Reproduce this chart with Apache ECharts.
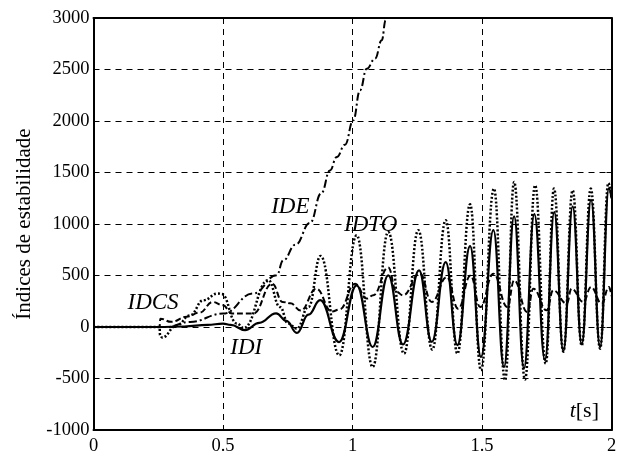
<!DOCTYPE html>
<html>
<head>
<meta charset="utf-8">
<script src="https://cdn.jsdelivr.net/npm/echarts@6/dist/echarts.min.js"></script>
<style>html,body{margin:0;padding:0;background:#fff}#c{width:619px;height:453px}</style>
</head>
<body>
<div id="c"></div>
<script>
// ---- data (t [s], value) ----
var xTicks = [0, 0.5, 1, 1.5, 2];
var yTicks = [-1000, -500, 0, 500, 1000, 1500, 2000, 2500, 3000];

var IDI = [[0,0],[0.25,0],[0.35,5],[0.44,20],[0.5,33],[0.53,20],[0.585,-30],[0.64,40],[0.705,133],[0.745,60],[0.785,-58],[0.83,120],[0.875,260],[0.948,-146],[1.016,405],[1.078,-194],[1.138,502],[1.195,-170],[1.257,550],[1.306,-145],[1.36,630],[1.405,-175],[1.454,785],[1.496,-290],[1.544,940],[1.585,-388],[1.624,1075],[1.662,-400],[1.702,1095],[1.743,-320],[1.779,1115],[1.814,-233],[1.85,1170],[1.885,-168],[1.921,1235],[1.956,-195],[1.99,1345],[2.0,1250]];

var IDTO = [[0,0],[0.255,0],[0.257,-80],[0.265,-103],[0.321,15],[0.373,113],[0.424,260],[0.48,325],[0.495,320],[0.553,35],[0.58,-10],[0.675,455],[0.72,194],[0.752,33],[0.785,-16],[0.83,194],[0.877,690],[0.949,-275],[1.016,890],[1.078,-388],[1.138,922],[1.199,-258],[1.254,940],[1.308,-220],[1.36,1036],[1.405,-258],[1.454,1191],[1.496,-420],[1.546,1344],[1.589,-517],[1.624,1408],[1.666,-510],[1.705,1376],[1.746,-356],[1.778,1344],[1.814,-240],[1.85,1327],[1.885,-180],[1.92,1344],[1.956,-210],[1.988,1398],[2.0,1250]];

var IDCS = [[0,0],[0.255,0],[0.258,80],[0.3,50],[0.36,100],[0.41,140],[0.46,243],[0.5,210],[0.534,130],[0.617,130],[0.69,420],[0.73,243],[0.76,230],[0.8,160],[0.86,372],[0.92,150],[0.95,170],[1.01,420],[1.055,276],[1.08,308],[1.138,577],[1.17,340],[1.195,308],[1.26,518],[1.306,243],[1.364,485],[1.408,178],[1.456,500],[1.493,194],[1.544,518],[1.598,194],[1.624,453],[1.675,146],[1.698,372],[1.75,162],[1.775,356],[1.827,227],[1.846,372],[1.891,243],[1.921,388],[1.962,227],[1.99,388],[2.0,300]];

var IDE = [[0,0],[0.28,0],[0.373,49],[0.5,130],[0.617,325],[0.707,502],[0.733,648],[0.78,800],[0.836,1010],[0.88,1300],[0.913,1520],[0.939,1650],[0.971,1770],[1.003,2007],[1.029,2298],[1.055,2508],[1.087,2605],[1.113,2783],[1.128,2977],[1.14,3150]];

var labels = [
  {text:'IDCS', t:0.23, v:230},
  {text:'IDI', t:0.59, v:-200},
  {text:'IDE', t:0.76, v:1170},
  {text:'IDTO', t:1.07, v:990}
];

var serif = '"Liberation Serif", "DejaVu Serif", serif';
var chart = echarts.init(document.getElementById('c'), null, {renderer:'canvas'});

function lineSeries(name, data, type, width) {
  return {
    name: name, type: 'line', data: data, showSymbol: false, symbol: 'none',
    smooth: 0.45, smoothMonotone: 'x', clip: true,
    lineStyle: {color: '#000', width: width, type: type, cap: 'butt'},
    xAxisIndex: 0, yAxisIndex: 0, z: 5
  };
}

var axisCommon = {
  axisLine: {show: true, onZero: false, lineStyle: {color: '#000', width: 2}},
  axisTick: {show: true, inside: true, length: 5, lineStyle: {color: '#000', width: 1}},
};
function plain(v) { return String(v); }

chart.setOption({
  animation: false,
  backgroundColor: '#fff',
  grid: {left: 93.5, right: 7.5, top: 18, bottom: 23, containLabel: false, outerBoundsMode: 'none'},
  xAxis: [
    Object.assign({type: 'value', min: xTicks[0], max: xTicks[xTicks.length-1], interval: 0.5, position: 'bottom',
      axisLabel: {color: '#000', fontFamily: serif, fontSize: 18.5, margin: 7, formatter: plain},
      splitLine: {show: true, lineStyle: {color: '#000', width: 1, type: [6, 5]}}}, axisCommon),
    Object.assign({type: 'value', min: xTicks[0], max: xTicks[xTicks.length-1], interval: 0.5, position: 'top',
      axisLabel: {show: false}, splitLine: {show: false}}, axisCommon)
  ],
  yAxis: [
    Object.assign({type: 'value', min: yTicks[0], max: yTicks[yTicks.length-1], interval: 500, position: 'left',
      axisLabel: {color: '#000', fontFamily: serif, fontSize: 18.5, margin: 4, formatter: plain},
      splitLine: {show: true, lineStyle: {color: '#000', width: 1, type: [6, 5]}},
      name: 'Índices de estabilidade', nameLocation: 'middle', nameGap: 57, nameRotate: 90,
      nameTextStyle: {color: '#000', fontFamily: serif, fontSize: 21}}, axisCommon),
    Object.assign({type: 'value', min: yTicks[0], max: yTicks[yTicks.length-1], interval: 500, position: 'right',
      axisLabel: {show: false}, splitLine: {show: false}}, axisCommon)
  ],
  series: [
    lineSeries('IDE', IDE, [8, 3, 2, 3], 2),
    lineSeries('IDCS', IDCS, [6, 3], 2),
    lineSeries('IDTO', IDTO, [2, 2], 2.5),
    lineSeries('IDI', IDI, 'solid', 2.2)
  ]
});

var g = labels.map(function (l) {
  var p = chart.convertToPixel({xAxisIndex: 0, yAxisIndex: 0}, [l.t, l.v]);
  return {type: 'text', x: p[0], y: p[1], z: 20,
    style: {text: l.text, fill: '#000', font: 'italic 23px ' + serif, align: 'center', verticalAlign: 'middle'}};
});
var pt = chart.convertToPixel({xAxisIndex: 0, yAxisIndex: 0}, [1.895, -820]);
g.push({type: 'text', x: pt[0], y: pt[1], z: 20,
  style: {rich: {i: {font: 'italic 22px ' + serif, fill: '#000'}, n: {font: '22px ' + serif, fill: '#000'}},
    text: '{i|t}{n|[s]}', align: 'center', verticalAlign: 'middle'}});
chart.setOption({graphic: g});
</script>
</body>
</html>
